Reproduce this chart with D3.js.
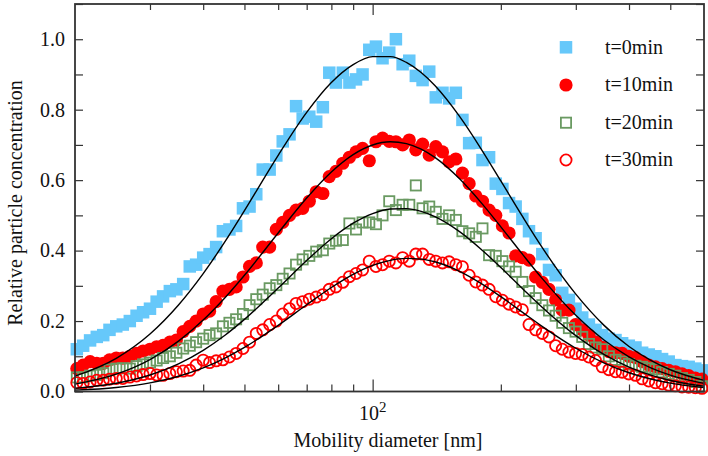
<!DOCTYPE html>
<html>
<head>
<meta charset="utf-8">
<script src="https://cdn.jsdelivr.net/npm/d3@7"></script>
<style>
  html, body { margin: 0; padding: 0; background: #fff; }
  svg { display: block; }
  text { font-family: "Liberation Serif", "Times New Roman", serif; fill: #111; }
</style>
</head>
<body>
<svg id="chart" width="708" height="456"></svg>
<script>
// ---------------- DATA ----------------
const diameters = [
  20.2, 20.9, 21.7, 22.5, 23.3, 24.1, 25.0, 25.9, 26.9, 27.9,
  28.9, 30.0, 31.1, 32.2, 33.4, 34.6, 35.9, 37.2, 38.5, 40.0,
  41.4, 42.9, 44.5, 46.1, 47.8, 49.6, 51.4, 53.3, 55.2, 57.3,
  59.4, 61.5, 63.8, 66.1, 68.5, 71.0, 73.7, 76.4, 79.1, 82.0,
  85.1, 88.2, 91.4, 94.7, 98.2, 101.8, 105.5, 109.4, 113.4, 117.6,
  121.9, 126.3, 131.0, 135.8, 140.7, 145.9, 151.2, 156.8, 162.5, 168.5,
  174.7, 181.1, 187.7, 194.6, 201.7, 209.1, 216.7, 224.7, 232.9, 241.4,
  250.3, 259.5, 269.0, 278.8, 289.0, 299.6, 310.6, 322.0, 333.8, 346.0,
  358.7, 371.8, 385.4, 399.5, 414.2, 429.4, 445.1, 461.4, 478.3, 495.8,
  514.0, 532.8, 552.3, 572.5, 593.5
];

const t0min = [
  0.12, 0.13, 0.145, 0.155, 0.16, 0.175, 0.185, 0.19, 0.20, 0.215,
  0.225, 0.235, 0.255, 0.27, 0.285, 0.29, 0.305, 0.355, 0.36, 0.38,
  0.39, 0.41, 0.455, 0.46, 0.47, 0.52, 0.525, 0.56, 0.63, 0.63,
  0.67, 0.71, 0.73, 0.81, 0.775, 0.78, 0.766, 0.807, 0.905, 0.877,
  0.905, 0.877, 0.886, 0.90, 0.97, 0.979, 0.946, 0.962, 1.0, 0.929,
  0.939, 0.896, 0.884, 0.908, 0.835, 0.848, 0.832, 0.848, 0.771, 0.705,
  0.706, 0.657, 0.665, 0.59, 0.575, 0.535, 0.525, 0.49, 0.455, 0.435,
  0.39, 0.345, 0.33, 0.28, 0.26, 0.235, 0.21, 0.19, 0.175, 0.16,
  0.15, 0.146, 0.137, 0.13, 0.125, 0.11, 0.105, 0.10, 0.092, 0.085,
  0.075, 0.072, 0.07, 0.065, 0.06
];

const t10min = [
  0.065, 0.075, 0.085, 0.08, 0.08, 0.09, 0.095, 0.095, 0.10, 0.108,
  0.115, 0.12, 0.127, 0.131, 0.14, 0.146, 0.17, 0.185, 0.20, 0.22,
  0.228, 0.255, 0.285, 0.29, 0.297, 0.325, 0.355, 0.365, 0.41, 0.41,
  0.46, 0.48, 0.50, 0.515, 0.52, 0.54, 0.567, 0.562, 0.61, 0.625,
  0.648, 0.665, 0.68, 0.69, 0.655, 0.709, 0.719, 0.71, 0.709, 0.70,
  0.714, 0.686, 0.702, 0.671, 0.695, 0.68, 0.652, 0.66, 0.62, 0.59,
  0.555, 0.54, 0.515, 0.50, 0.47, 0.45, 0.385, 0.38, 0.373, 0.325,
  0.31, 0.29, 0.26, 0.231, 0.231, 0.19, 0.175, 0.16, 0.14, 0.125,
  0.113, 0.11, 0.108, 0.10, 0.096, 0.085, 0.075, 0.07, 0.065, 0.06,
  0.056, 0.05, 0.045, 0.038, 0.035
];

const t20min = [
  0.04, 0.04, 0.045, 0.047, 0.052, 0.062, 0.065, 0.066, 0.065, 0.072,
  0.077, 0.082, 0.088, 0.095, 0.10, 0.11, 0.122, 0.13, 0.14, 0.15,
  0.16, 0.165, 0.185, 0.195, 0.205, 0.22, 0.245, 0.262, 0.275, 0.293,
  0.302, 0.32, 0.335, 0.36, 0.375, 0.385, 0.397, 0.401, 0.42, 0.428,
  0.43, 0.477, 0.46, 0.48, 0.48, 0.475, 0.50, 0.54, 0.515, 0.53,
  0.53, 0.585, 0.52, 0.525, 0.51, 0.49, 0.50, 0.487, 0.455, 0.449,
  0.439, 0.463, 0.387, 0.385, 0.37, 0.355, 0.34, 0.311, 0.285, 0.265,
  0.245, 0.23, 0.215, 0.195, 0.18, 0.17, 0.155, 0.135, 0.125, 0.12,
  0.10, 0.09, 0.085, 0.078, 0.073, 0.07, 0.066, 0.063, 0.055, 0.05,
  0.045, 0.038, 0.033, 0.027, 0.015
];

const t30min = [
  0.025, 0.023, 0.027, 0.032, 0.032, 0.035, 0.037, 0.037, 0.041, 0.044,
  0.048, 0.051, 0.047, 0.046, 0.051, 0.056, 0.058, 0.06, 0.075, 0.089,
  0.082, 0.087, 0.09, 0.098, 0.108, 0.122, 0.14, 0.165, 0.175, 0.19,
  0.20, 0.22, 0.235, 0.25, 0.255, 0.262, 0.268, 0.275, 0.29, 0.297,
  0.31, 0.326, 0.335, 0.345, 0.37, 0.355, 0.36, 0.37, 0.365, 0.38,
  0.37, 0.39, 0.39, 0.375, 0.37, 0.365, 0.368, 0.36, 0.354, 0.33,
  0.311, 0.302, 0.29, 0.269, 0.259, 0.248, 0.24, 0.232, 0.19, 0.175,
  0.165, 0.155, 0.13, 0.12, 0.112, 0.108, 0.105, 0.098, 0.088, 0.07,
  0.062, 0.056, 0.055, 0.05, 0.046, 0.036, 0.03, 0.025, 0.022, 0.018,
  0.016, 0.013, 0.012, 0.011, 0.009
];

// Log-normal fit curves (values read at these diameters)
const fitDiameters = [20, 25, 30, 35, 40, 45, 50, 60, 70, 80, 90, 100, 110, 120, 130, 140, 160, 180, 200, 225, 250, 300, 350, 400, 450, 500, 600];
const fit0min  = [0.0435, 0.0943, 0.1633, 0.2456, 0.3347, 0.4254, 0.5134, 0.6703, 0.7922, 0.877, 0.9278, 0.9505, 0.9507, 0.9341, 0.9054, 0.8684, 0.7808, 0.6876, 0.5976, 0.4962, 0.4091, 0.2763, 0.187, 0.1277, 0.0883, 0.0618, 0.0314];
const fit10min = [0.0208, 0.0491, 0.0906, 0.143, 0.2028, 0.2662, 0.3301, 0.4499, 0.5492, 0.6232, 0.6725, 0.6998, 0.7089, 0.7038, 0.688, 0.6645, 0.6037, 0.5354, 0.4674, 0.3891, 0.321, 0.2161, 0.1453, 0.0984, 0.0673, 0.0466, 0.0231];
const fit20min = [0.0089, 0.0234, 0.0469, 0.0786, 0.117, 0.1598, 0.2048, 0.2935, 0.3718, 0.4336, 0.4777, 0.5051, 0.5181, 0.5192, 0.5112, 0.4964, 0.4539, 0.4033, 0.3519, 0.2919, 0.2394, 0.1585, 0.1045, 0.0693, 0.0463, 0.0313, 0.0149];
const fit30min = [0.0040, 0.0115, 0.0246, 0.0434, 0.0672, 0.0950, 0.1252, 0.1878, 0.2462, 0.2952, 0.3324, 0.3578, 0.3724, 0.3779, 0.3759, 0.3682, 0.3413, 0.3063, 0.2692, 0.2247, 0.1849, 0.1228, 0.0808, 0.0533, 0.0355, 0.0239, 0.0111];

const seriesNames = ["t=0min", "t=10min", "t=20min", "t=30min"];
const yTickValues = [0, 0.1, 0.2, 0.3, 0.4, 0.5, 0.6, 0.7, 0.8, 0.9, 1.0, 1.1];
const yLabelValues = [0, 0.2, 0.4, 0.6, 0.8, 1.0];
const xTickValues = [30, 40, 50, 60, 70, 80, 90, 100, 200, 300, 400, 500];
const xDomain = [20, 600];
const yDomain = [0, 1.1];

// ---------------- LAYOUT / STYLE ----------------
const svg = d3.select("#chart");
const L = 75, R = 704, T = 4, B = 391.5;
const x = d3.scaleLog().domain(xDomain).range([L, R]);
const y = d3.scaleLinear().domain(yDomain).range([B, T]);

const BLUE = "#66c8fa", RED = "#ff0000", GREEN = "#6a9a62";
const styles = [
  { shape: "square", fill: BLUE, stroke: "none", size: 12.5, sw: 0 },
  { shape: "circle", fill: RED, stroke: "none", size: 6.6, sw: 0 },
  { shape: "square", fill: "none", stroke: GREEN, size: 10.2, sw: 1.8 },
  { shape: "circle", fill: "none", stroke: RED, size: 5.6, sw: 1.8 }
];
const allSeries = [t0min, t10min, t20min, t30min];
const allFits = [fit0min, fit10min, fit20min, fit30min];

function drawMarker(g, st, cx, cy) {
  if (st.shape === "square") {
    g.append("rect")
      .attr("x", cx - st.size / 2).attr("y", cy - st.size / 2)
      .attr("width", st.size).attr("height", st.size)
      .attr("fill", st.fill).attr("stroke", st.stroke).attr("stroke-width", st.sw);
  } else {
    g.append("circle")
      .attr("cx", cx).attr("cy", cy).attr("r", st.size)
      .attr("fill", st.fill).attr("stroke", st.stroke).attr("stroke-width", st.sw);
  }
}

// data markers
allSeries.forEach((vals, si) => {
  const g = svg.append("g").attr("class", "series-" + si);
  const n = Math.min(vals.length, diameters.length);
  for (let i = 0; i < n; i++) {
    drawMarker(g, styles[si], x(diameters[i]), y(vals[i]));
  }
});

// fit lines
const line = d3.line()
  .x(d => x(d[0])).y(d => y(d[1]))
  .curve(d3.curveMonotoneX);
allFits.forEach(f => {
  svg.append("path")
    .attr("d", line(fitDiameters.map((d, i) => [d, f[i]])))
    .attr("fill", "none").attr("stroke", "#000").attr("stroke-width", 1.4);
});

// axes
const AX = "#333";
const yAxisL = d3.axisLeft(y).tickValues(yTickValues).tickSize(-8).tickPadding(10)
  .tickFormat(d => yLabelValues.some(v => Math.abs(v - d) < 1e-9) ? d3.format(".1f")(d) : "");
const gL = svg.append("g").attr("transform", `translate(${L},0)`).call(yAxisL);
const yAxisR = d3.axisRight(y).tickValues(yTickValues).tickSize(-8).tickFormat("");
const gR = svg.append("g").attr("transform", `translate(${R},0)`).call(yAxisR);
const xAxisB = d3.axisBottom(x).tickValues(xTickValues).tickSize(-7).tickFormat("");
const gB = svg.append("g").attr("transform", `translate(0,${B})`).call(xAxisB);
const xAxisT = d3.axisTop(x).tickValues(xTickValues).tickSize(-6).tickFormat("");
const gT = svg.append("g").attr("transform", `translate(0,${T})`).call(xAxisT);

[gL, gR, gB, gT].forEach(g => {
  g.select(".domain").remove();
  g.selectAll(".tick line").attr("stroke", AX).attr("stroke-width", 1.2);
});
gB.selectAll(".tick line").filter(d => d === 100).attr("y2", -12);
gT.selectAll(".tick line").filter(d => d === 100).attr("y2", 11);
gL.selectAll(".tick text")
  .style("font-family", '"Liberation Serif", "Times New Roman", serif')
  .style("font-size", "20px").attr("fill", "#111");

// frame
svg.append("rect").attr("x", L).attr("y", T).attr("width", R - L).attr("height", B - T)
  .attr("fill", "none").attr("stroke", AX).attr("stroke-width", 1.8);

// x tick label 10^2
const xl = svg.append("text").attr("x", x(100)).attr("y", 420)
  .attr("text-anchor", "middle").style("font-size", "20px");
xl.append("tspan").text("10");
xl.append("tspan").attr("dy", -8).style("font-size", "15px").text("2");

// axis titles
svg.append("text").attr("x", 388).attr("y", 447).attr("text-anchor", "middle")
  .style("font-size", "20px").text("Mobility diameter [nm]");
svg.append("text").attr("transform", "translate(22,203) rotate(-90)")
  .attr("text-anchor", "middle").style("font-size", "20px")
  .text("Relative particle concentration");

// legend
const legY = [47.3, 85, 122.7, 160];
seriesNames.forEach((name, i) => {
  const g = svg.append("g").attr("class", "legend");
  drawMarker(g, styles[i], 566, legY[i]);
  g.append("text").attr("x", 605).attr("y", legY[i] + 6.3)
    .style("font-size", "20px").text(name);
});
</script>
</body>
</html>
